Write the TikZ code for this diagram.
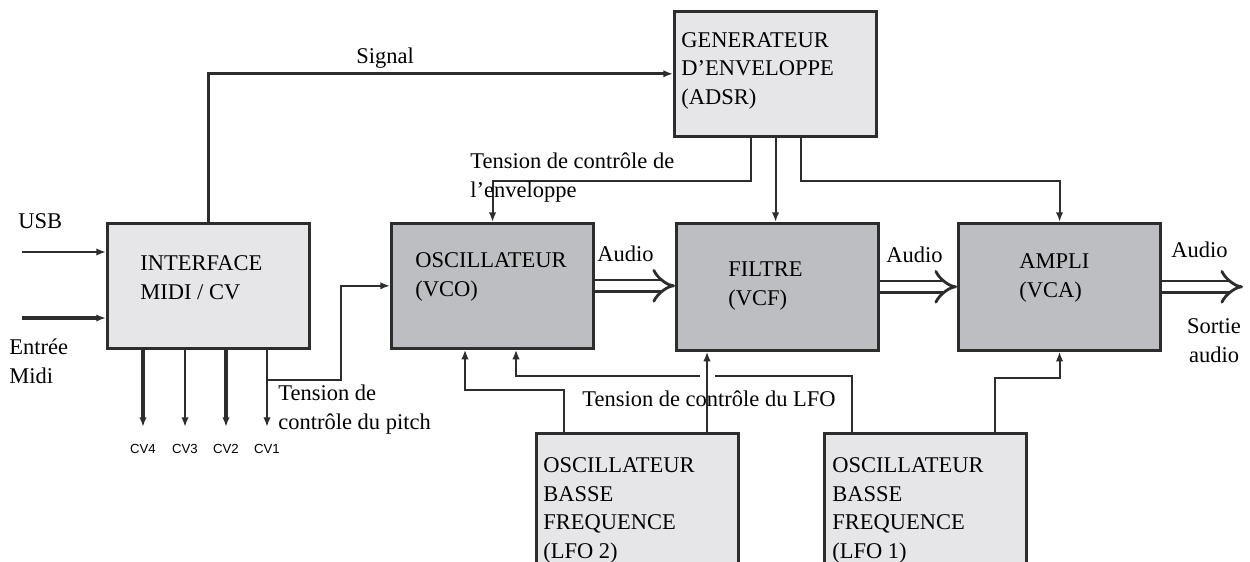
\documentclass[tikz,border=0pt]{standalone}
\usepackage{fontspec}
\setmainfont{Liberation Serif}
\newfontfamily\cvfont{Liberation Sans}
\usetikzlibrary{arrows.meta}

\definecolor{boxlight}{RGB}{230,230,232}
\definecolor{boxdark}{RGB}{189,190,193}
\definecolor{trait}{RGB}{45,45,45}

\tikzset{
  blok/.style={draw=trait, line width=1.5pt, inner sep=0pt, anchor=north west,
               minimum width=4.05cm, minimum height=2.5cm},
  txt/.style={font=\fontsize{12.8}{16.2}\selectfont, align=left, anchor=base west, inner sep=0pt},
  cvtxt/.style={font=\cvfont\fontsize{7.5}{9}\selectfont, anchor=base, inner sep=0pt},
  fil/.style={draw=trait, line width=1.1pt, -{Latex[length=5.5pt,width=4.2pt]}},
  filmoyen/.style={fil, line width=1.6pt},
  filgros/.style={fil, line width=2.1pt},
  audio/.style={draw=trait, line width=1.6pt, double=white, double distance=5pt, -{Implies}},
}

\begin{document}
\begin{tikzpicture}[x=0.02cm, y=-0.02cm]
        \useasboundingbox (0,0) rectangle (1250,561);

        % blocs
        \node [blok, fill=boxlight] (ifbox) at (106,222) {};                          %INTERFACE
        \node [blok, fill=boxdark]  (vco)   at (390,222) {};                          %VCO
        \node [blok, fill=boxdark, minimum height=2.54cm] (vcf) at (675,222) {};      %VCF
        \node [blok, fill=boxdark, minimum height=2.54cm] (vca) at (957,222) {};      %VCA
        \node [blok, fill=boxlight] (adsr)  at (673,10)  {};                          %ADSR
        \node [blok, fill=boxlight, minimum height=2.68cm] (lfo2) at (535,432) {};    %LFO 2
        \node [blok, fill=boxlight, minimum height=2.68cm] (lfo1) at (823,432) {};    %LFO 1

        % entrees
        \coordinate (usb)  at (22,252);
        \coordinate (midi) at (22,318);
        \draw [filmoyen] (usb)  -- (usb -| ifbox.west);                              %USB
        \draw [filgros]  (midi) -- (midi -| ifbox.west);                             %Midi

        % sorties CV
        \coordinate (cv4) at (143,427);
        \coordinate (cv3) at (185,427);
        \coordinate (cv2) at (226,427);
        \coordinate (cv1) at (267,427);
        \draw [filgros]  (ifbox.south -| cv4) -- (cv4);                              %CV4
        \draw [fil]      (ifbox.south -| cv3) -- (cv3);                              %CV3
        \draw [filgros]  (ifbox.south -| cv2) -- (cv2);                              %CV2
        \draw [filmoyen] (ifbox.south -| cv1) -- (cv1);                              %CV1

        % pitch
        \coordinate (pitchsplit) at (267,380);
        \draw [fil] (pitchsplit) -- ++(74,0) |- (vco.west);                         %

        % signal vers ADSR
        \draw [filmoyen] (ifbox.north) |- (adsr.west);                               %

        % enveloppe
        \draw [fil] ([shift={(-25,0)}]adsr.south) -- ++(0,43) -| (vco.north);        %
        \draw [fil] (adsr.south) -- (adsr.south |- vcf.north);                       %
        \draw [fil] ([shift={(25,0)}]adsr.south) -- ++(0,43) -| (vca.north);         %

        % audio
        \coordinate (sortie) at (1243,286);
        \draw [audio] (vco.east) -- (vco.east -| vcf.west);                          %
        \draw [audio] (vcf.east) -- (vcf.east -| vca.west);                          %
        \draw [audio] (vca.east) -- (sortie |- vca.east);                            %

        % LFO
        \coordinate (vcoin1)  at ([shift={(75,0)}]vco.south west);
        \coordinate (vcoin2)  at ([shift={(126,0)}]vco.south west);
        \coordinate (vcfin)   at ([shift={(32,0)}]vcf.south west);
        \coordinate (lfo2out) at ([shift={(29,0)}]lfo2.north west);
        \coordinate (lfo1out) at ([shift={(29,0)}]lfo1.north west);
        \coordinate (lfoline) at ([shift={(0,-56)}]lfo1out);
        \draw [filmoyen] (lfo2out) -- ++(0,-42) -| (vcoin1);                         %LFO 2 -> VCO
        \draw [filmoyen] (lfo1out) -- (lfoline) -- ([xshift=4.5pt]vcfin |- lfoline)
                         ([xshift=-4pt]vcfin |- lfoline) -| (vcoin2);                %LFO 1 -> VCO
        \draw [fil] ([shift={(172,0)}]lfo2.north west) -- (vcfin);                   %LFO 2 -> VCF
        \draw [fil] ([shift={(172,0)}]lfo1.north west) -- ++(0,-54) -| (vca.south);  %LFO 1 -> VCA

        % textes des blocs (ancre = ligne de base de la derniere ligne)
        \node [txt] (iftxt)   at (140,299)  {INTERFACE\\MIDI / CV};
        \node [txt] (vcotxt)  at (415,296)  {OSCILLATEUR\\(VCO)};
        \node [txt] (vcftxt)  at (728,305)  {FILTRE\\(VCF)};
        \node [txt] (vcatxt)  at (1019,297) {AMPLI\\(VCA)};
        \node [txt] (adsrtxt) at (681,104)  {GENERATEUR\\D'ENVELOPPE\\(ADSR)};
        \node [txt] (lfo2txt) at (543,558)  {OSCILLATEUR\\BASSE\\FREQUENCE\\(LFO 2)};
        \node [txt] (lfo1txt) at (832,558)  {OSCILLATEUR\\BASSE\\FREQUENCE\\(LFO 1)};

        % etiquettes
        \node [txt] (usbtxt)    at (18,228)   {USB};
        \node [txt] (miditxt)   at (9,383)    {Entrée\\Midi};
        \node [txt] (signaltxt) at (356,63)   {Signal};
        \node [txt] (envtxt)    at (470,197)  {Tension de contrôle de\\l'enveloppe};
        \node [txt] (pitchtxt)  at (278,429)  {Tension de\\contrôle du pitch};
        \node [txt] (lfotxt)    at (582,406)  {Tension de contrôle du LFO};
        \node [txt] (audio1)    at (597,261)  {Audio};
        \node [txt] (audio2)    at (886,262)  {Audio};
        \node [txt] (audio3)    at (1171,257) {Audio};
        \node [txt, align=center, anchor=base] (sortietxt) at (1214,362) {Sortie\\audio};
        \node [cvtxt] (cv4txt) at (143,453) {CV4};
        \node [cvtxt] (cv3txt) at (185,453) {CV3};
        \node [cvtxt] (cv2txt) at (226,453) {CV2};
        \node [cvtxt] (cv1txt) at (267,453) {CV1};
\end{tikzpicture}
\end{document}
